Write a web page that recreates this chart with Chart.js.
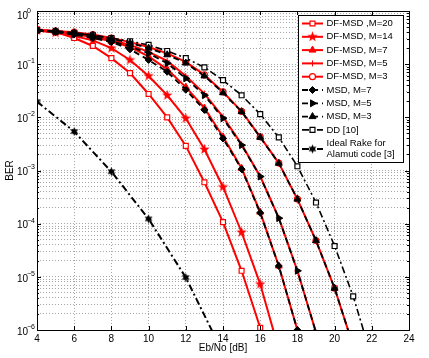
<!DOCTYPE html>
<html>
<head>
<meta charset="utf-8">
<script src="https://cdn.jsdelivr.net/npm/chart.js@4.4.1/dist/chart.umd.min.js"></script>
<style>
  html, body { margin: 0; padding: 0; background: #fff; }
  #wrap { width: 429px; height: 358px; }
</style>
</head>
<body>
<div id="wrap"><canvas id="myChart" width="429" height="358"></canvas></div>
<script>
// Eb/No axis (dB), one value per curve point
const snr = [4, 5, 6, 7, 8, 9, 10, 11, 12, 13, 14, 15, 16, 17, 18, 19, 20, 21, 22];
const snrRake = [4, 6, 8, 10, 12, 14];

// BER values
const berDfM20 = [0.45, 0.40, 0.31, 0.22, 0.13, 0.068, 0.0275, 0.010, 2.9e-3, 6.0e-4, 1.07e-4, 1.3e-5, 1.1e-6];
const berDfM14 = [0.43, 0.39, 0.34, 0.28, 0.20, 0.12, 0.060, 0.026, 9.6e-3, 2.5e-3, 4.9e-4, 6.9e-5, 7.3e-6, 4.3e-7];
const berDfM7  = [0.44, 0.41, 0.37, 0.32, 0.27, 0.21, 0.14, 0.080, 0.037, 0.015, 4.3e-3, 1.1e-3, 1.65e-4, 1.6e-5, 1.0e-6];
const berDfM5  = [0.44, 0.42, 0.38, 0.34, 0.285, 0.23, 0.17, 0.115, 0.060, 0.028, 0.0102, 3.1e-3, 7.8e-4, 1.28e-4, 1.3e-5, 9.0e-7];
const berDfM3  = [0.44, 0.42, 0.40, 0.36, 0.31, 0.26, 0.21, 0.16, 0.11, 0.063, 0.030, 0.013, 4.3e-3, 1.38e-3, 2.9e-4, 4.8e-5, 6.1e-6, 5.0e-7];
const berMsdM7 = [0.43, 0.40, 0.36, 0.31, 0.26, 0.19, 0.12, 0.072, 0.033, 0.0138, 4.0e-3, 1.06e-3, 1.6e-4, 1.6e-5, 1.0e-6];
const berMsdM5 = [0.44, 0.41, 0.37, 0.33, 0.27, 0.215, 0.16, 0.104, 0.054, 0.026, 9.6e-3, 3.0e-3, 7.7e-4, 1.27e-4, 1.3e-5, 9.0e-7];
const berMsdM3 = [0.44, 0.42, 0.39, 0.35, 0.30, 0.25, 0.20, 0.15, 0.105, 0.060, 0.029, 0.0128, 4.2e-3, 1.37e-3, 2.9e-4, 4.8e-5, 6.1e-6, 5.0e-7];
const berDD    = [0.43, 0.41, 0.38, 0.35, 0.31, 0.27, 0.23, 0.177, 0.13, 0.087, 0.050, 0.026, 0.0115, 4.2e-3, 1.2e-3, 2.5e-4, 3.8e-5, 4.3e-6, 3.0e-7];
const berRake  = [0.0197, 5.4e-3, 9.5e-4, 1.23e-4, 9.7e-6, 3.7e-7];

const xTicks = [4, 6, 8, 10, 12, 14, 16, 18, 20, 22, 24];
const yTickExps = [0, -1, -2, -3, -4, -5, -6];

function toPoints(xs, ys) {
    return ys.map((v, i) => ({ x: xs[i], y: v }));
}

// filled star marker (pentagram / hexagram)
function starMarker(n, outer, inner, color) {
    const c = document.createElement('canvas');
    const s = Math.ceil(outer * 2 + 2);
    c.width = s; c.height = s;
    const g = c.getContext('2d');
    g.translate(s / 2, s / 2);
    g.beginPath();
    for (let i = 0; i < n * 2; i++) {
        const r = i % 2 === 0 ? outer : inner;
        const a = -Math.PI / 2 + i * Math.PI / n;
        g.lineTo(r * Math.cos(a), r * Math.sin(a));
    }
    g.closePath();
    g.fillStyle = color;
    g.fill();
    return c;
}

const pentagram = starMarker(5, 5.5, 2.3, '#ff0000');
const hexagram = starMarker(6, 4.5, 2.4, '#000000');

const RED = '#ff0000';
const BLK = '#000000';
const dash = [6, 4];
const dashDot = [7, 3, 2, 3];

const datasets = [
    { label: 'DF-MSD ,M=20', data: toPoints(snr, berDfM20), borderColor: RED, borderWidth: 2,
      pointStyle: 'rect', pointRadius: 3.5, pointBackgroundColor: '#fff', pointBorderColor: RED, pointBorderWidth: 1.2, order: 10 },
    { label: 'DF-MSD, M=14', data: toPoints(snr, berDfM14), borderColor: RED, borderWidth: 2,
      pointStyle: pentagram, pointRadius: 4, order: 10 },
    { label: 'DF-MSD, M=7', data: toPoints(snr, berDfM7), borderColor: RED, borderWidth: 2,
      pointStyle: 'triangle', pointRadius: 4, pointBackgroundColor: RED, pointBorderColor: RED, pointBorderWidth: 1, order: 10 },
    { label: 'DF-MSD, M=5', data: toPoints(snr, berDfM5), borderColor: RED, borderWidth: 2,
      pointStyle: 'cross', pointRadius: 3, pointBorderColor: RED, pointBorderWidth: 1, order: 10 },
    { label: 'DF-MSD, M=3', data: toPoints(snr, berDfM3), borderColor: RED, borderWidth: 2,
      pointStyle: 'circle', pointRadius: 3, pointBackgroundColor: '#fff', pointBorderColor: RED, pointBorderWidth: 1.2, order: 10 },
    { label: 'MSD, M=7', data: toPoints(snr, berMsdM7), borderColor: BLK, borderWidth: 1.8, borderDash: dash,
      pointStyle: 'rectRot', pointRadius: 3.5, pointBackgroundColor: BLK, pointBorderColor: BLK, pointBorderWidth: 1, order: 1 },
    { label: 'MSD, M=5', data: toPoints(snr, berMsdM5), borderColor: BLK, borderWidth: 1.8, borderDash: dash,
      pointStyle: 'triangle', pointRotation: 90, pointRadius: 4, pointBackgroundColor: BLK, pointBorderColor: BLK, pointBorderWidth: 1, order: 1 },
    { label: 'MSD, M=3', data: toPoints(snr, berMsdM3), borderColor: BLK, borderWidth: 1.8, borderDash: dash,
      pointStyle: 'triangle', pointRadius: 4, pointBackgroundColor: BLK, pointBorderColor: BLK, pointBorderWidth: 1, order: 1 },
    { label: 'DD [10]', data: toPoints(snr, berDD), borderColor: BLK, borderWidth: 1.6, borderDash: dashDot,
      pointStyle: 'rect', pointRadius: 3.5, pointBackgroundColor: '#fff', pointBorderColor: BLK, pointBorderWidth: 1.2, order: 1 },
    { label: ['Ideal Rake for', 'Alamuti code [3]'], data: toPoints(snrRake, berRake), borderColor: BLK, borderWidth: 2, borderDash: dashDot,
      pointStyle: hexagram, pointRadius: 4, order: 1 }
];
datasets.forEach(d => { d.fill = false; d.tension = 0; d.pointHoverRadius = 0; });

const FONT = '"Liberation Sans", Arial, Helvetica, sans-serif';

// box, inward ticks, y labels with exponents and the legend
const extras = {
    id: 'extras',
    afterDraw(chart) {
        const ctx = chart.ctx;
        const a = chart.chartArea;
        const xs = chart.scales.x;
        const ys = chart.scales.y;
        ctx.save();
        ctx.strokeStyle = '#000';
        ctx.lineWidth = 1;
        ctx.beginPath();
        xTicks.forEach(t => {
            const px = Math.round(xs.getPixelForValue(t)) + 0.5;
            ctx.moveTo(px, a.bottom); ctx.lineTo(px, a.bottom - 4);
            ctx.moveTo(px, a.top); ctx.lineTo(px, a.top + 4);
        });
        yTickExps.forEach(e => {
            for (let k = 1; k <= 9; k++) {
                const v = k * Math.pow(10, e);
                if (v > 1.0001) break;
                const py = Math.round(ys.getPixelForValue(v)) + 0.5;
                const len = k === 1 ? 4 : 2;
                ctx.moveTo(a.left, py); ctx.lineTo(a.left + len, py);
                ctx.moveTo(a.right, py); ctx.lineTo(a.right - len, py);
            }
        });
        ctx.stroke();
        ctx.strokeRect(Math.round(a.left) + 0.5, Math.round(a.top) + 0.5,
            Math.round(a.right - a.left), Math.round(a.bottom - a.top));

        // y tick labels 10^n
        ctx.fillStyle = '#000';
        ctx.textBaseline = 'middle';
        ctx.textAlign = 'left';
        yTickExps.forEach(e => {
            const py = Math.max(ys.getPixelForValue(Math.pow(10, e)) + 2, 16.5);
            ctx.font = '10px ' + FONT;
            ctx.fillText('10', 17, py);
            ctx.font = '7px ' + FONT;
            ctx.fillText(e === 0 ? '0' : '\u2212' + (-e), 27, py - 5);
        });

        // legend
        const L = { left: 298, top: 15, right: 403, bottom: 162 };
        ctx.fillStyle = '#fff';
        ctx.fillRect(L.left, L.top, L.right - L.left, L.bottom - L.top);
        ctx.strokeStyle = '#000';
        ctx.lineWidth = 1;
        ctx.setLineDash([]);
        ctx.strokeRect(L.left + 0.5, L.top + 0.5, L.right - L.left, L.bottom - L.top);
        chart.data.datasets.forEach((d, i) => {
            const multi = Array.isArray(d.label);
            const cy = multi ? 149 : 23.5 + i * 13.3;
            ctx.save();
            ctx.strokeStyle = d.borderColor;
            ctx.lineWidth = d.borderWidth;
            ctx.setLineDash(d.borderDash || []);
            ctx.beginPath();
            ctx.moveTo(302, cy); ctx.lineTo(323, cy);
            ctx.stroke();
            ctx.setLineDash([]);
            ctx.fillStyle = d.pointBackgroundColor || d.borderColor;
            ctx.strokeStyle = d.pointBorderColor || d.borderColor;
            ctx.lineWidth = d.pointBorderWidth || 1;
            Chart.helpers.drawPoint(ctx, {
                pointStyle: d.pointStyle, rotation: d.pointRotation || 0,
                radius: d.pointRadius, borderWidth: d.pointBorderWidth || 1
            }, 312.5, cy);
            ctx.restore();
            ctx.fillStyle = '#000';
            ctx.font = '9.5px ' + FONT;
            ctx.textBaseline = 'middle';
            ctx.textAlign = 'left';
            if (multi) {
                ctx.fillText(d.label[0], 326.5, cy - 5.5);
                ctx.fillText(d.label[1], 326.5, cy + 5.5);
            } else {
                ctx.fillText(d.label, 326.5, cy);
            }
        });
        ctx.restore();
    }
};

const gridStyle = {
    color: 'rgba(0,0,0,0.35)',
    lineWidth: 1,
    drawTicks: false,
    tickBorderDash: [1, 2]
};

window.chart = new Chart(document.getElementById('myChart').getContext('2d'), {
    type: 'line',
    data: { datasets: datasets },
    options: {
        responsive: false,
        animation: false,
        devicePixelRatio: 1,
        layout: { padding: { left: 0, top: 11, right: 20, bottom: 0 } },
        plugins: { legend: { display: false }, tooltip: { enabled: false } },
        scales: {
            x: {
                type: 'linear', min: 4, max: 24,
                afterBuildTicks: scale => { scale.ticks = xTicks.map(v => ({ value: v })); },
                afterFit: scale => { scale.height = 28; },
                grid: gridStyle,
                border: { display: false, dash: [1, 2] },
                ticks: { color: '#000', font: { family: FONT, size: 10 }, padding: 3, maxRotation: 0, autoSkip: false },
                title: { display: true, text: 'Eb/No [dB]', color: '#000', font: { family: FONT, size: 10 }, padding: { top: 0, bottom: 4 } }
            },
            y: {
                type: 'logarithmic', min: 1e-6, max: 1,
                afterBuildTicks: scale => {
                    const t = [];
                    yTickExps.slice().reverse().forEach(e => {
                        for (let k = 1; k <= 9; k++) {
                            const v = k * Math.pow(10, e);
                            if (v <= 1.0001) t.push({ value: v, major: k === 1 });
                        }
                    });
                    scale.ticks = t;
                },
                afterFit: scale => { scale.width = 37; },
                grid: gridStyle,
                border: { display: false, dash: [1, 2] },
                ticks: { display: false, autoSkip: false },
                title: { display: true, text: 'BER', color: '#000', font: { family: FONT, size: 10 }, padding: { top: 4, bottom: 0 } }
            }
        }
    },
    plugins: [extras]
});
</script>
</body>
</html>
